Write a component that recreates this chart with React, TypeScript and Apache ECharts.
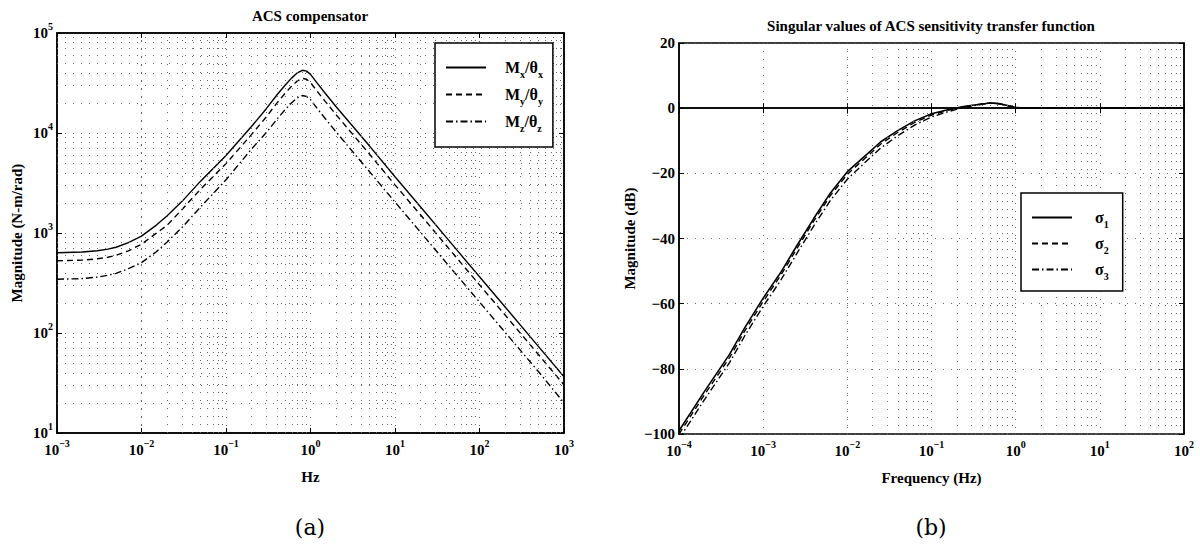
import React, { useEffect, useRef } from 'react';
import * as echarts from 'echarts';

// ---------- Panel (a): ACS compensator ----------
const freqA = [0.001, 0.002, 0.003, 0.004, 0.005, 0.007, 0.01, 0.015, 0.02, 0.03, 0.05, 0.1, 0.2, 0.3, 0.4, 0.5, 0.6, 0.7, 0.8, 0.9, 1, 1.2, 1.5, 2, 5, 10, 20, 50, 100, 200, 500, 1000];
const magMx = [635, 645, 665, 690, 720, 800, 930, 1200, 1480, 2060, 3300, 5950, 11600, 17500, 24000, 30000, 35600, 40000, 42400, 41600, 38600, 31500, 24800, 18400, 7400, 3650, 1830, 730, 365, 183, 73, 36.5];
const magMy = [527, 535, 552, 572, 598, 664, 772, 996, 1190, 1710, 2740, 4940, 9630, 14500, 19900, 24900, 29500, 33200, 35200, 34500, 32000, 26100, 20600, 15300, 6140, 3030, 1520, 606, 303, 152, 60.6, 30.3];
const magMz = [345, 350, 362, 378, 395, 440, 505, 650, 810, 1130, 1820, 3400, 6900, 10100, 13700, 17100, 20100, 22500, 23700, 23200, 21600, 17600, 13900, 10300, 4100, 2040, 1020, 408, 204, 102, 41, 20];
const namesA = ['Mx/θx', 'My/θy', 'Mz/θz'];

// ---------- Panel (b): singular values of sensitivity ----------
const freqB = [1e-4, 2e-4, 4e-4, 6e-4, 1e-3, 1.6e-3, 2.5e-3, 4e-3, 6.3e-3, 1e-2, 1.6e-2, 2.5e-2, 4e-2, 6.3e-2, 0.1, 0.16, 0.25, 0.4, 0.5, 0.63, 0.8, 1, 1.26, 2, 10, 100];
const sig1 = [-99, -87, -75.5, -67.5, -58.3, -50.6, -42.3, -33.8, -26, -19.5, -14.8, -10.3, -6.8, -3.9, -1.7, -0.4, 0.6, 1.3, 1.6, 1.4, 0.8, 0.2, 0, 0, 0, 0];
const sig2 = [-100, -88, -76.5, -68.5, -59.3, -51.5, -43.2, -34.6, -26.8, -20.3, -15.5, -11, -7.4, -4.4, -2.1, -0.6, 0.5, 1.3, 1.6, 1.4, 0.8, 0.2, 0, 0, 0, 0];
const sig3 = [-101.5, -89.5, -78, -70, -60.8, -53, -44.7, -36.1, -28.3, -21.8, -16.8, -12.2, -8.4, -5.2, -2.7, -1.0, 0.3, 1.2, 1.6, 1.4, 0.8, 0.2, 0, 0, 0, 0];
const namesB = ['σ1', 'σ2', 'σ3'];

const dbTicks = [-100, -80, -60, -40, -20, 0, 20];

const FONT = '"Liberation Serif", "Times New Roman", serif';

const supRich = {
  b: { fontFamily: FONT, fontWeight: 'bold', fontSize: 15, color: '#000', lineHeight: 24 },
  s: { fontFamily: FONT, fontWeight: 'bold', fontSize: 10, color: '#000', lineHeight: 10, padding: [0, 0, 14, 0] },
};
const subRich = {
  sp: { width: 14 },
  m: { fontFamily: FONT, fontWeight: 'bold', fontSize: 16, color: '#000', lineHeight: 22 },
  s: { fontFamily: FONT, fontWeight: 'bold', fontSize: 10, color: '#000', lineHeight: 10, padding: [13, 0, 0, 0] },
};

function powLabel(v: number) {
  const e = Math.round(Math.log10(v));
  return `{b|10}{s|${e < 0 ? '−' + -e : e}}`;
}

function minorValues(e0: number, e1: number) {
  const out: number[] = [];
  for (let e = e0; e < e1; e++) for (let k = 2; k <= 9; k++) out.push(k * Math.pow(10, e));
  return out;
}

const gridLine = { color: '#666', width: 1, type: [1, 7] as any };
const tickIn = { show: true, inside: true, length: 5, lineStyle: { color: '#000', width: 1 } };
const axisLineBlack = { show: true, lineStyle: { color: '#000', width: 1.5 } };

function pairs(x: number[], y: number[]) {
  return x.map((v, i) => [v, y[i]]);
}

const dash = [6, 4];
const dashDot = [7, 3, 1.5, 3];

export default function App() {
  const ref = useRef<HTMLDivElement>(null);
  useEffect(() => {
    if (!ref.current) return;
    const chart = echarts.init(ref.current, undefined, { renderer: 'svg' });

    const markA = {
      silent: true,
      symbol: ['none', 'none'],
      label: { show: false },
      lineStyle: gridLine,
      emphasis: { disabled: true },
      data: [
        ...minorValues(-3, 3).map((v) => ({ xAxis: v })),
        ...minorValues(1, 5).map((v) => ({ yAxis: v })),
      ],
    };
    const markB = {
      silent: true,
      symbol: ['none', 'none'],
      label: { show: false },
      lineStyle: gridLine,
      emphasis: { disabled: true },
      data: minorValues(-4, 2).map((v) => ({ xAxis: v })),
    };

    const lineBase = {
      type: 'line',
      symbol: 'none',
      showSymbol: false,
      smooth: false,
      silent: true,
      color: '#000',
      clip: true,
      z: 3,
    };

    const legendBase = {
      orient: 'vertical',
      backgroundColor: '#fff',
      borderColor: '#000',
      borderWidth: 1.5,
      itemWidth: 40,
      itemHeight: 14,
      itemStyle: { opacity: 0 },
      selectedMode: false,
      z: 10,
    };

    const option: any = {
      animation: false,
      backgroundColor: '#fff',
      grid: [
        { left: 57, top: 33, width: 507, height: 400, show: true, borderColor: '#000', borderWidth: 1.5, backgroundColor: 'transparent' },
        { left: 679, top: 43, width: 505, height: 391, show: true, borderColor: '#000', borderWidth: 1.5, backgroundColor: 'transparent' },
      ],
      xAxis: [
        {
          type: 'log', logBase: 10, gridIndex: 0, min: 1e-3, max: 1e3, position: 'bottom',
          axisLine: axisLineBlack, axisTick: tickIn, splitLine: { show: true, lineStyle: gridLine },
          axisLabel: { formatter: powLabel, rich: supRich, margin: 5 },
          name: 'Hz', nameLocation: 'middle', nameGap: 36,
          nameTextStyle: { fontFamily: FONT, fontWeight: 'bold', fontSize: 15, color: '#000' },
        },
        {
          type: 'log', logBase: 10, gridIndex: 0, min: 1e-3, max: 1e3, position: 'top',
          axisLine: axisLineBlack, axisTick: tickIn, splitLine: { show: false }, axisLabel: { show: false },
        },
        {
          type: 'log', logBase: 10, gridIndex: 1, min: 1e-4, max: 1e2, position: 'bottom',
          axisLine: axisLineBlack, axisTick: tickIn, splitLine: { show: true, lineStyle: gridLine },
          axisLabel: { formatter: powLabel, rich: supRich, margin: 5 },
          name: 'Frequency (Hz)', nameLocation: 'middle', nameGap: 36,
          nameTextStyle: { fontFamily: FONT, fontWeight: 'bold', fontSize: 15, color: '#000' },
        },
        {
          type: 'log', logBase: 10, gridIndex: 1, min: 1e-4, max: 1e2, position: 'top',
          axisLine: axisLineBlack, axisTick: tickIn, splitLine: { show: false }, axisLabel: { show: false },
        },
      ],
      yAxis: [
        {
          type: 'log', logBase: 10, gridIndex: 0, min: 10, max: 1e5, position: 'left',
          axisLine: axisLineBlack, axisTick: tickIn, splitLine: { show: true, lineStyle: gridLine },
          axisLabel: { formatter: powLabel, rich: supRich, margin: 4 },
          name: 'Magnitude (N-m/rad)', nameLocation: 'middle', nameGap: 33,
          nameTextStyle: { fontFamily: FONT, fontWeight: 'bold', fontSize: 15, color: '#000' },
        },
        {
          type: 'log', logBase: 10, gridIndex: 0, min: 10, max: 1e5, position: 'right',
          axisLine: axisLineBlack, axisTick: tickIn, splitLine: { show: false }, axisLabel: { show: false },
        },
        {
          type: 'value', gridIndex: 1, min: dbTicks[0], max: dbTicks[dbTicks.length - 1], interval: 20, position: 'left',
          axisLine: axisLineBlack, axisTick: tickIn, splitLine: { show: true, lineStyle: gridLine },
          axisLabel: {
            formatter: (v: number) => (v < 0 ? '−' + -v : String(v)),
            fontFamily: FONT, fontWeight: 'bold', fontSize: 15, color: '#000', margin: 4,
          },
          name: 'Magnitude (dB)', nameLocation: 'middle', nameGap: 42,
          nameTextStyle: { fontFamily: FONT, fontWeight: 'bold', fontSize: 15, color: '#000' },
        },
        {
          type: 'value', gridIndex: 1, min: dbTicks[0], max: dbTicks[dbTicks.length - 1], interval: 20, position: 'right',
          axisLine: axisLineBlack, axisTick: tickIn, splitLine: { show: false }, axisLabel: { show: false },
        },
      ],
      legend: [
        {
          ...legendBase,
          data: namesA, left: 435, top: 43,
          padding: [13, 10, 14, 10], itemGap: 4,
          formatter: (n: string) => `{sp|}{m|M}{s|${n[1]}}{m|/θ}{s|${n[4]}}`,
          textStyle: { rich: subRich },
        },
        {
          ...legendBase,
          data: namesB, left: 1021, top: 193,
          padding: [13, 14, 10, 10], itemGap: 3,
          formatter: (n: string) => `{sp|}{m|σ}{s|${n[1]}}`,
          textStyle: { rich: { ...subRich, sp: { width: 18 } } },
        },
      ],
      graphic: [
        { type: 'text', x: 310, y: 16, style: { text: 'ACS compensator', font: `bold 15px ${FONT}`, fill: '#000', textAlign: 'center', align: 'center', textVerticalAlign: 'middle', verticalAlign: 'middle' } },
        { type: 'text', x: 931, y: 26, style: { text: 'Singular values of ACS sensitivity transfer function', font: `bold 15px ${FONT}`, fill: '#000', textAlign: 'center', align: 'center', textVerticalAlign: 'middle', verticalAlign: 'middle' } },
        { type: 'text', x: 310, y: 527, style: { text: '(a)', font: `22px "DejaVu Serif", ${FONT}`, fill: '#000', textAlign: 'center', align: 'center', textVerticalAlign: 'middle', verticalAlign: 'middle' } },
        { type: 'text', x: 931, y: 527, style: { text: '(b)', font: `22px "DejaVu Serif", ${FONT}`, fill: '#000', textAlign: 'center', align: 'center', textVerticalAlign: 'middle', verticalAlign: 'middle' } },
      ],
      series: [
        { ...lineBase, name: namesA[0], xAxisIndex: 0, yAxisIndex: 0, data: pairs(freqA, magMx), lineStyle: { color: '#000', width: 1.4, type: 'solid' }, markLine: markA },
        { ...lineBase, name: namesA[1], xAxisIndex: 0, yAxisIndex: 0, data: pairs(freqA, magMy), lineStyle: { color: '#000', width: 1.4, type: dash } },
        { ...lineBase, name: namesA[2], xAxisIndex: 0, yAxisIndex: 0, data: pairs(freqA, magMz), lineStyle: { color: '#000', width: 1.4, type: dashDot } },
        { ...lineBase, name: namesB[0], xAxisIndex: 2, yAxisIndex: 2, data: pairs(freqB, sig1), lineStyle: { color: '#000', width: 1.6, type: 'solid' }, markLine: markB },
        { ...lineBase, name: namesB[1], xAxisIndex: 2, yAxisIndex: 2, data: pairs(freqB, sig2), lineStyle: { color: '#000', width: 1.4, type: dash } },
        { ...lineBase, name: namesB[2], xAxisIndex: 2, yAxisIndex: 2, data: pairs(freqB, sig3), lineStyle: { color: '#000', width: 1.4, type: dashDot } },
      ],
    };

    chart.setOption(option);
    return () => chart.dispose();
  }, []);

  return (
    <div
      ref={ref}
      style={{ position: 'fixed', left: 0, top: 0, width: 1200, height: 548, background: '#fff' }}
    />
  );
}
